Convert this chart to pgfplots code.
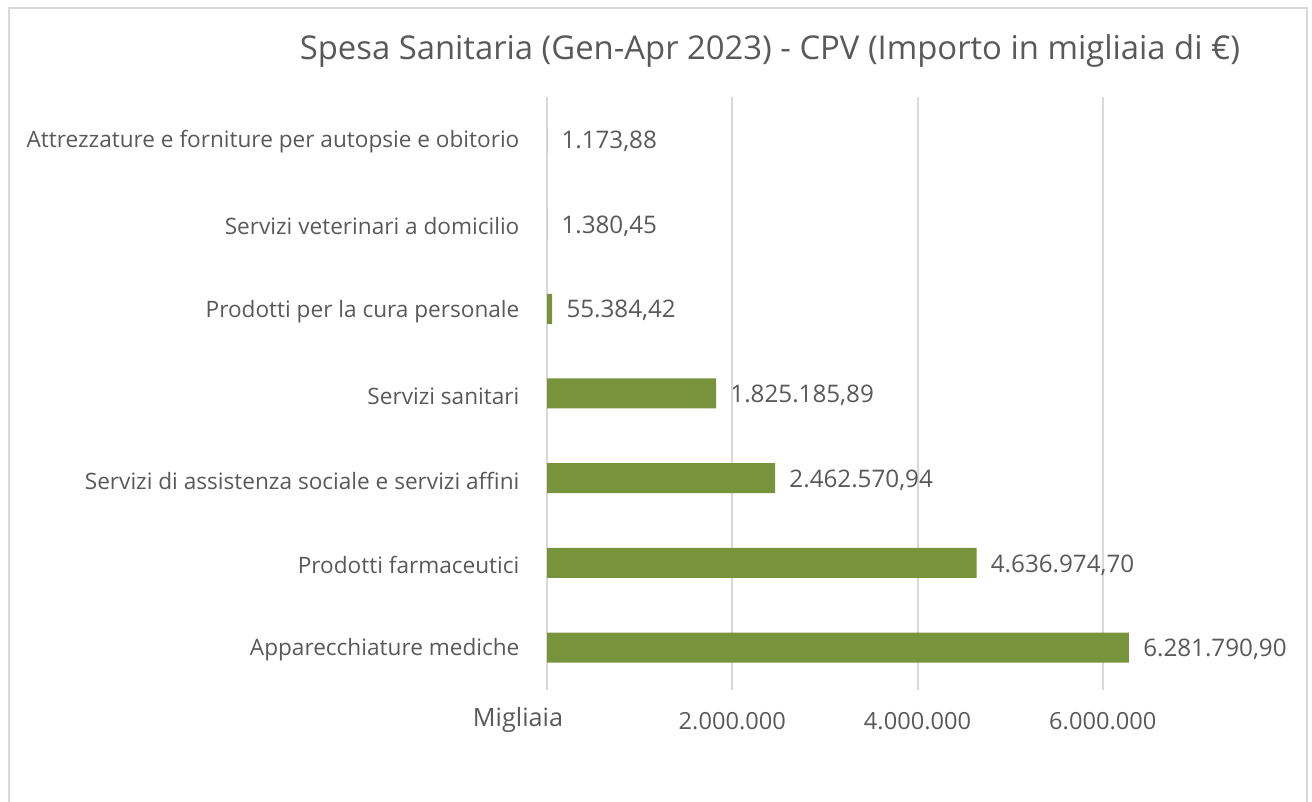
\documentclass[border=0pt]{standalone}
\usepackage{fontspec}
\setmainfont{Open Sans}
\usepackage{pgfplots}
\pgfplotsset{compat=1.18}
\usepackage{pgfplotstable}
\definecolor{txt}{HTML}{595959}
\definecolor{barc}{HTML}{77933C}
\definecolor{gridc}{HTML}{D9D9D9}
\pgfplotstableread[col sep=semicolon]{
y;x;lab
0;6281790.90;6.281.790,90
1;4636974.70;4.636.974,70
2;2462570.94;2.462.570,94
3;1825185.89;1.825.185,89
4;55384.42;55.384,42
5;1380.45;1.380,45
6;1173.88;1.173,88
}\spesa
\begin{document}
\begin{tikzpicture}
\useasboundingbox (0,0) rectangle (656pt,401pt);
\draw[gridc, line width=1pt] (4.5pt,-5pt) -- (4.5pt,397pt) -- (653.5pt,397pt) -- (653.5pt,-5pt);
\node[text=txt, font=\fontsize{16.4}{19}\selectfont] at (385pt,375.5pt) {Spesa Sanitaria (Gen-Apr 2023) - CPV (Importo in migliaia di €)};
\node[text=txt, font=\fontsize{12.6}{14}\selectfont] at (259pt,41pt) {Migliaia};
\begin{axis}[
  at={(273.5pt,56pt)}, anchor=south west,
  scale only axis, width=370.5pt, height=296.5pt,
  xbar, bar width=15pt,
  xmin=0, xmax=8000000, ymin=-0.5, ymax=6.5,
  axis line style={draw=none},
  scaled x ticks=false,
  xmajorgrids, grid style={gridc, line width=1pt},
  xtick={0,2000000,4000000,6000000},
  xticklabels={,2.000.000,4.000.000,6.000.000},
  ytick={0,...,6},
  yticklabels={Apparecchiature mediche,Prodotti farmaceutici,Servizi di assistenza sociale e servizi affini,Servizi sanitari,Prodotti per la cura personale,Servizi veterinari a domicilio,Attrezzature e forniture per autopsie e obitorio},
  tick style={draw=none},
  xticklabel style={text=txt, font=\fontsize{11.8}{13}\selectfont, yshift=-7.5pt},
  yticklabel style={text=txt, font=\fontsize{11.3}{13}\selectfont, xshift=-6pt, yshift=-1.2pt},
  nodes near coords, point meta=explicit symbolic,
  every node near coord/.append style={text=txt, font=\fontsize{12.1}{14}\selectfont, anchor=west, inner sep=0pt, xshift=7pt, yshift=-1pt},
  clip=false,
]
\addplot[fill=barc, draw=none] table[x=x, y=y, meta=lab] {\spesa};
\end{axis}
\end{tikzpicture}
\end{document}
